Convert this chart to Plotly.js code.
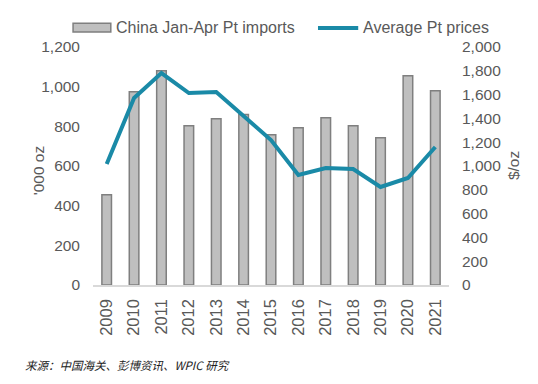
<!DOCTYPE html>
<html>
<head>
<meta charset="utf-8">
<script src="https://cdn.plot.ly/plotly-3.0.1.min.js"></script>
<style>
html,body{margin:0;padding:0;background:#fff;}
#chart{width:538px;height:384px;}
</style>
</head>
<body>
<div id="chart"></div>
<script>
const years = ["2009","2010","2011","2012","2013","2014","2015","2016","2017","2018","2019","2020","2021"];
const imports = [455, 975, 1080, 803, 838, 860, 758, 793, 843, 803, 742, 1055, 980];
const prices = [1017, 1571, 1781, 1613, 1622, 1420, 1218, 924, 983, 975, 824, 899, 1160];
const leftTicks = [0, 200, 400, 600, 800, 1000, 1200];
const rightTicks = [0, 200, 400, 600, 800, 1000, 1200, 1400, 1600, 1800, 2000];
const barName = "China Jan-Apr Pt imports";
const lineName = "Average Pt prices";
const leftTitle = "'000 oz";
const rightTitle = "$/oz";
const source = "来源：中国海关、彭博资讯、WPIC 研究";

const fmt = v => v.toLocaleString('en-US');
const FAM = "Liberation Sans, Arial, sans-serif";
const yTickFont = {family: FAM, size: 15.5, color: "#595959"};
const xTickFont = {family: FAM, size: 16.5, color: "#595959"};
const legFont = {family: FAM, size: 16, color: "#595959"};
const barColor = "#bfbfbf", barLine = "#7f7f7f", lineColor = "#1a8aa7";

const traces = [
  {type: "bar", x: years, y: imports, name: barName, width: 0.35,
   marker: {color: barColor, line: {color: barLine, width: 1.5}}, showlegend: false},
  {type: "scatter", mode: "lines", x: years, y: prices, name: lineName, yaxis: "y2",
   line: {color: lineColor, width: 4}, showlegend: false}
];

const layout = {
  width: 538, height: 384,
  margin: {l: 93, r: 89, t: 47, b: 99},
  paper_bgcolor: "#fff", plot_bgcolor: "#fff",
  showlegend: false,
  xaxis: {type: "category", tickangle: -90, tickfont: xTickFont, showgrid: false,
          showline: true, linecolor: "#d9d9d9", linewidth: 1.5, ticks: "", ticklabelstandoff: 6,
          zeroline: false},
  yaxis: {range: [0, 1200], tickvals: leftTicks, ticktext: leftTicks.map(fmt), tickfont: yTickFont,
          showgrid: false, zeroline: false, showline: false, ticks: "", ticklabelstandoff: 12},
  yaxis2: {range: [0, 2000], overlaying: "y", side: "right", tickvals: rightTicks,
           ticktext: rightTicks.map(fmt), tickfont: yTickFont, showgrid: false, zeroline: false,
           showline: false, ticks: "", ticklabelstandoff: 12},
  shapes: [
    {type: "rect", xref: "paper", yref: "paper", x0: -0.056, x1: 0.05, y0: 1.063, y1: 1.1,
     fillcolor: barColor, line: {color: barLine, width: 1.5}},
    {type: "line", xref: "paper", yref: "paper", x0: 0.632, x1: 0.745, y0: 1.08, y1: 1.08,
     line: {color: lineColor, width: 4}}
  ],
  annotations: [
    {text: barName, xref: "paper", yref: "paper", x: 0.06, y: 1.08, xanchor: "left", yanchor: "middle",
     showarrow: false, font: legFont},
    {text: lineName, xref: "paper", yref: "paper", x: 0.753, y: 1.08, xanchor: "left", yanchor: "middle",
     showarrow: false, font: legFont},
    {text: leftTitle, xref: "paper", yref: "paper", x: -0.153, y: 0.48, xanchor: "center", yanchor: "middle",
     textangle: -90, showarrow: false, font: yTickFont},
    {text: rightTitle, xref: "paper", yref: "paper", x: 1.18, y: 0.5, xanchor: "center", yanchor: "middle",
     textangle: -90, showarrow: false, font: yTickFont},
    {text: "<i>" + source + "</i>", xref: "paper", yref: "paper", x: -0.197, y: -0.337, xanchor: "left",
     yanchor: "middle", showarrow: false,
     font: {family: "Noto Sans CJK SC, sans-serif", size: 11.5, color: "#222"}}
  ]
};

Plotly.newPlot("chart", traces, layout, {displayModeBar: false, staticPlot: true});
</script>
</body>
</html>
